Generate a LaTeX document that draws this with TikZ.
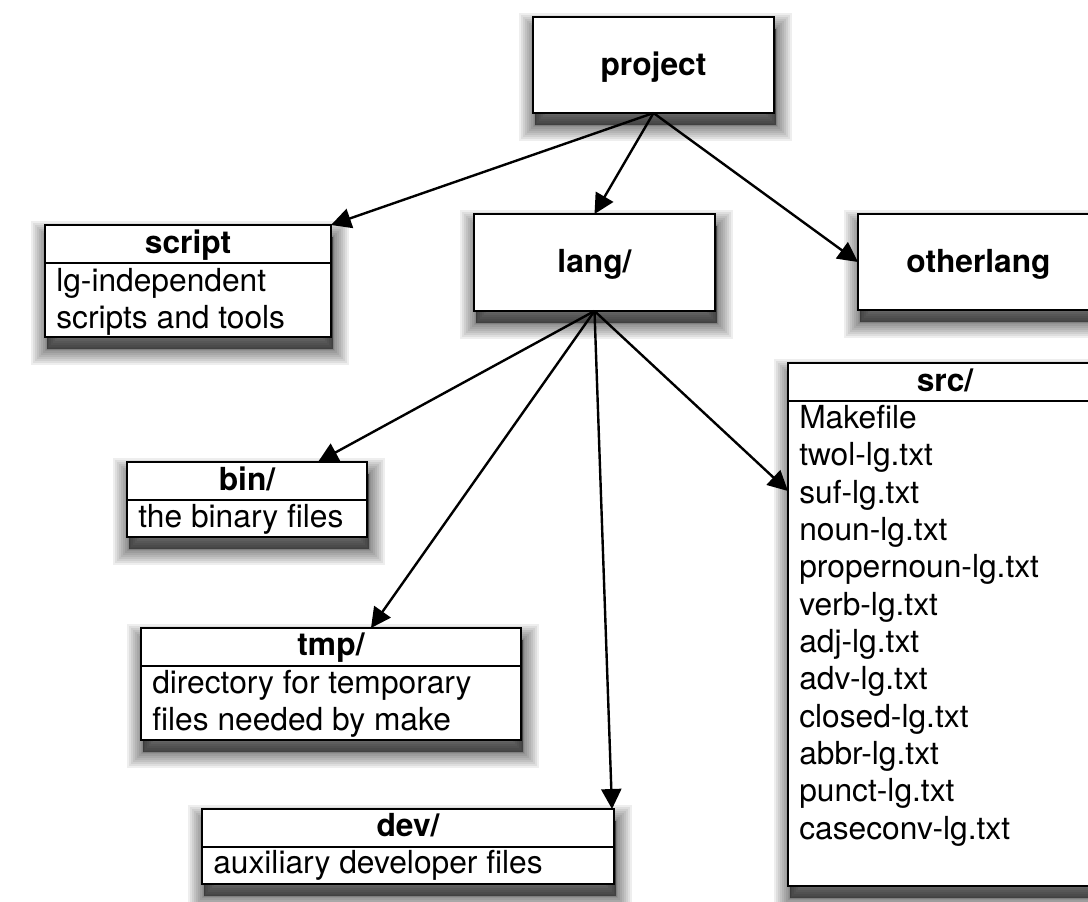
\documentclass[tikz,border=0pt]{standalone}
\usepackage{fontspec}
\setmainfont{TeX Gyre Heros}
\usetikzlibrary{arrows.meta,calc}
\tikzset{
  shadowlayer/.style={preaction={fill=black, draw=black, opacity=0.065, line width=#1,
      transform canvas={xshift=1.5pt,yshift=-9pt}}},
  box/.style={draw=black, line width=2pt, fill=white, outer sep=0pt, inner sep=0pt,
    shadowlayer=24pt, shadowlayer=21pt, shadowlayer=18pt, shadowlayer=15pt, shadowlayer=12pt,
    shadowlayer=9pt, shadowlayer=6pt, shadowlayer=3.5pt, shadowlayer=1.5pt, shadowlayer=0.1pt},
  divider/.style={line width=1.6pt},
  link/.style={line width=1.8pt, -{Triangle[length=15pt,width=15pt]}},
  titletext/.style={font=\fontsize{23.8}{27}\selectfont\bfseries, inner sep=0pt, anchor=base},
  bodytext/.style={font=\fontsize{23.8}{27.75}\selectfont, inner sep=0pt, anchor=north west, align=left},
}
\begin{document}
\begin{tikzpicture}[x=0.75pt,y=-0.75pt]
\path[use as bounding box, fill=white] (0,0) rectangle (1088,901);

% top level boxes
\node[box, minimum width=180.75pt, minimum height=72pt] (project) at (653.5,65) {};
\node[box, minimum width=180.75pt, minimum height=72.75pt] (lang) at (594.5,262.5) {};
\node[box, minimum width=180.75pt, minimum height=72pt] (otherlang) at (978.5,262) {};
\node[titletext] at ($(project.center)+(0,10)$) {project};
\node[titletext] at ($(lang.center)+(0,10)$) {lang/};
\node[titletext] at ($(otherlang.center)+(0,10)$) {otherlang};

% boxes with header
\node[box, minimum width=214.5pt, minimum height=84pt] (script) at (188,281) {};
\node[box, minimum width=180pt, minimum height=56.25pt] (bin) at (247,499.5) {};
\node[box, minimum width=285pt, minimum height=84pt] (tmp) at (331,684) {};
\node[box, minimum width=309pt, minimum height=56.25pt] (dev) at (408,846.5) {};
\node[box, minimum width=235.5pt, minimum height=392.25pt] (src) at (945,624.5) {};

\foreach \b in {script,bin,tmp,dev,src}{
  \draw[divider] ($(\b.north west)+(0,38)$) -- ($(\b.north east)+(0,38)$);
}

\node[titletext] at ($(script.north)+(0,28)$) {script};
\node[titletext] at ($(bin.north)+(0,28.5)$) {bin/};
\node[titletext] at ($(tmp.north)+(0,27.5)$) {tmp/};
\node[titletext] at ($(dev.north)+(0,27.5)$) {dev/};
\node[titletext] at ($(src.north)+(0,28.5)$) {src/};

\node[bodytext] at ($(script.north west)+(11,43)$) {lg-independent\\scripts and tools};
\node[bodytext] at ($(bin.north west)+(11,42)$) {the binary files};
\node[bodytext] at ($(tmp.north west)+(11,42)$) {directory for temporary\\files needed by make};
\node[bodytext] at ($(dev.north west)+(11,41)$) {auxiliary developer files};
\node[bodytext, font=\fontsize{23.8}{28}\selectfont] at ($(src.north west)+(11,42)$) {Makefile\\twol-lg.txt\\suf-lg.txt\\noun-lg.txt\\propernoun-lg.txt\\verb-lg.txt\\adj-lg.txt\\adv-lg.txt\\closed-lg.txt\\abbr-lg.txt\\punct-lg.txt\\caseconv-lg.txt};

% connectors
\draw[link] (project.south) -- (script.north east);
\draw[link] (project.south) -- (lang.north);
\draw[link] (project.south) -- (otherlang.west);
\draw[link] (lang.south) -- ([xshift=-36.75pt]bin.north east);
\draw[link] (lang.south) -- ([xshift=-112.5pt]tmp.north east);
\draw[link] (lang.south) -- ([xshift=-1.5pt]dev.north east);
\draw[link] (lang.south) -- ([yshift=-96pt]src.north west);
\end{tikzpicture}
\end{document}
